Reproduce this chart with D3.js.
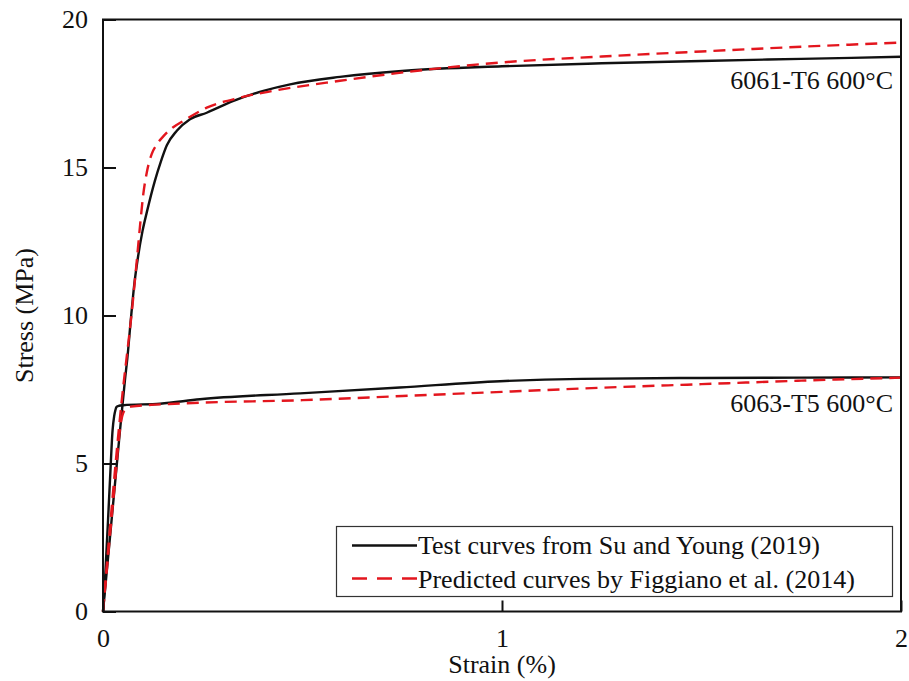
<!DOCTYPE html>
<html>
<head>
<meta charset="utf-8">
<script src="https://cdn.jsdelivr.net/npm/d3@7"></script>
<style>
  body { margin: 0; background: #fff; font-family: "Times New Roman", serif; }
</style>
</head>
<body>
<svg id="chart" width="909" height="681" style="font-family: 'Times New Roman', serif"></svg>
<script>
// Stress–strain curves of aluminium alloys at 600 °C
const xTicks = [0, 1, 2];
const yTicks = [0, 5, 10, 15, 20];

// 6061-T6, test curve
const strain6061Test = [0, 0.02, 0.04, 0.055, 0.061, 0.070, 0.078, 0.088, 0.099, 0.11, 0.13, 0.145, 0.160, 0.185, 0.218, 0.26, 0.327, 0.402, 0.469, 0.594, 0.757, 1.0, 1.25, 1.5, 1.75, 2.0];
const stress6061Test = [0, 2.87, 5.75, 7.82, 8.55, 9.9, 11.0, 12.0, 12.85, 13.5, 14.55, 15.2, 15.75, 16.24, 16.63, 16.85, 17.25, 17.59, 17.81, 18.06, 18.27, 18.42, 18.52, 18.6, 18.67, 18.74];

// 6061-T6, predicted curve
const strain6061Pred = [0, 0.0526, 0.0594, 0.072, 0.085, 0.094, 0.101, 0.11, 0.122, 0.135, 0.151, 0.175, 0.201, 0.26, 0.343, 0.427, 0.594, 0.757, 1.0, 1.25, 1.5, 1.75, 2.0];
const stress6061Pred = [0, 7.82, 8.6, 10.1, 11.9, 13.2, 14.1, 14.85, 15.45, 15.78, 16.05, 16.35, 16.57, 17.02, 17.36, 17.59, 17.93, 18.22, 18.55, 18.75, 18.92, 19.08, 19.22];

// 6063-T5, test curve
const strain6063Test = [0, 0.005, 0.0175, 0.024, 0.028, 0.031, 0.034, 0.04, 0.051, 0.143, 0.243, 0.494, 0.744, 0.995, 1.2, 1.5, 1.75, 2.0];
const stress6063Test = [0, 1.06, 4.44, 6.12, 6.6, 6.8, 6.91, 6.95, 6.97, 7.02, 7.17, 7.37, 7.57, 7.78, 7.86, 7.89, 7.9, 7.91];

// 6063-T5, predicted curve
const strain6063Pred = [0, 0.03, 0.045, 0.052, 0.06, 0.07, 0.2, 0.5, 0.75, 1.0, 1.25, 1.5, 1.75, 2.0];
const stress6063Pred = [0, 4.35, 6.4, 6.75, 6.86, 6.92, 7.03, 7.14, 7.28, 7.42, 7.56, 7.68, 7.8, 7.9];

const curveLabels = ["6061-T6 600°C", "6063-T5 600°C"];
const legendLabels = ["Test curves from Su and Young (2019)", "Predicted curves by Figgiano et al. (2014)"];

const SERIF = "Times New Roman";
const RED = "#e3161e";
const svg = d3.select("#chart");
const margin = { left: 103, top: 19.5, right: 8, bottom: 69.5 };
const W = 909, H = 681;
const iw = W - margin.left - margin.right;
const ih = H - margin.top - margin.bottom;

const x = d3.scaleLinear().domain([0, 2]).range([margin.left, margin.left + iw]);
const y = d3.scaleLinear().domain([0, 20]).range([margin.top + ih, margin.top]);

const line = d3.line().x(d => x(d[0])).y(d => y(d[1])).curve(d3.curveMonotoneX);
const zip = (a, b) => a.map((v, i) => [v, b[i]]);

// curves
const series = [
  { pts: zip(strain6061Test, stress6061Test), color: "#111", dash: null },
  { pts: zip(strain6063Test, stress6063Test), color: "#111", dash: null },
  { pts: zip(strain6061Pred, stress6061Pred), color: RED, dash: "12,7" },
  { pts: zip(strain6063Pred, stress6063Pred), color: RED, dash: "12,7" }
];
const g = svg.append("g");
series.forEach(s => {
  g.append("path")
    .attr("d", line(s.pts))
    .attr("fill", "none")
    .attr("stroke", s.color)
    .attr("stroke-width", 2.4)
    .attr("stroke-dasharray", s.dash);
});

// axes (ticks point inward)
const xAxis = d3.axisBottom(x).tickValues(xTicks).tickSize(-11).tickPadding(17).tickFormat(d3.format("d"));
const yAxis = d3.axisLeft(y).tickValues(yTicks).tickSize(-13).tickPadding(15).tickFormat(d3.format("d"));
const gx = svg.append("g").attr("transform", `translate(0,${margin.top + ih})`).call(xAxis);
const gy = svg.append("g").attr("transform", `translate(${margin.left},0)`).call(yAxis);
[gx, gy].forEach(a => {
  a.attr("font-family", SERIF).attr("font-size", 26);
  a.select(".domain").remove();
  a.selectAll(".tick line").attr("stroke", "#111").attr("stroke-width", 2);
  a.selectAll(".tick text").attr("fill", "#111")
    .attr("font-family", SERIF).attr("font-size", 26)
    .style("font-family", SERIF);
});
gx.selectAll(".tick text").attr("dy", "0.7em");

// frame
svg.append("rect")
  .attr("x", margin.left).attr("y", margin.top)
  .attr("width", iw).attr("height", ih)
  .attr("fill", "none").attr("stroke", "#111").attr("stroke-width", 2);

const label = (xx, yy, txt, anchor) => svg.append("text")
  .attr("x", xx).attr("y", yy).attr("text-anchor", anchor).attr("fill", "#111")
  .attr("font-family", SERIF).attr("font-size", 26)
  .style("font-family", SERIF).text(txt);

// axis titles
label(x(1), 673, "Strain (%)", "middle");
label(0, 0, "Stress (MPa)", "middle").attr("transform", `translate(33,${y(10)}) rotate(-90)`);

// curve labels
label(893, 89, curveLabels[0], "end");
label(893, 412, curveLabels[1], "end");

// legend
const lg = svg.append("g");
lg.append("rect").attr("x", 336.5).attr("y", 526.5).attr("width", 556).attr("height", 70)
  .attr("fill", "#fff").attr("stroke", "#333").attr("stroke-width", 1.2);
lg.append("line").attr("x1", 352).attr("x2", 417).attr("y1", 545.5).attr("y2", 545.5)
  .attr("stroke", "#111").attr("stroke-width", 2.4);
lg.append("line").attr("x1", 352).attr("x2", 417).attr("y1", 578.5).attr("y2", 578.5)
  .attr("stroke", RED).attr("stroke-width", 2.4).attr("stroke-dasharray", "15,10");
label(418, 554, legendLabels[0], "start");
label(418, 588, legendLabels[1], "start");
</script>
</body>
</html>
